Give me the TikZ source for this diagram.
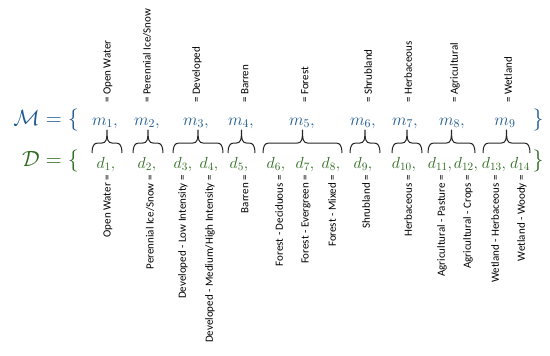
\RequirePackage{fix-cm}
\documentclass[tikz,border=0pt]{standalone}
\usepackage{fontspec}
\setmainfont{Carlito}
\definecolor{setblue}{RGB}{31,90,145}
\definecolor{setgreen}{RGB}{45,105,30}
\tikzset{
    % Class symbols
    mclass/.style  = {text=setblue, inner sep=0pt, anchor=base, font=\fontsize{17}{17}\selectfont},
    dclass/.style  = {text=setgreen, inner sep=0pt, anchor=base, font=\fontsize{16}{16}\selectfont},
    setname/.style = {inner sep=0pt, anchor=base east, font=\fontsize{22}{22}\selectfont},
    setend/.style  = {inner sep=0pt, anchor=base, font=\fontsize{22}{22}\selectfont},
    % Class names
    toplabel/.style = {rotate=90, anchor=west, inner sep=0pt, font=\fontsize{11}{11}\selectfont},
    botlabel/.style = {rotate=90, anchor=east, inner sep=0pt, font=\fontsize{11}{11}\selectfont},
    % Grouping braces
    grp/.style = {line width=1pt, black!85, line join=round}
}
\begin{document}
\begin{tikzpicture}[x=1pt, y=-1pt]
    \useasboundingbox (0,0) rectangle (550,356);

    % Set names
    \node (msetname) [setname, text=setblue] at (79,125) {$\mathcal{M} = \{$};
    \node (dsetname) [setname, text=setgreen] at (79,166) {$\mathcal{D} = \{$};

    % Merged classes (top row)
    \node (m1) [mclass] at (105,125) {$m_1,$};
    \node (m2) [mclass] at (147,125) {$m_2,$};
    \node (m3) [mclass] at (196,125) {$m_3,$};
    \node (m4) [mclass] at (241,125) {$m_4,$};
    \node (m5) [mclass] at (302,125) {$m_5,$};
    \node (m6) [mclass] at (363,125) {$m_6,$};
    \node (m7) [mclass] at (405,125) {$m_7,$};
    \node (m8) [mclass] at (452,125) {$m_8,$};
    \node (m9) [mclass] at (505,125) {$m_9$};
    \node (mclose) [setend, text=setblue] at (538,125) {$\}$};

    % Original classes (bottom row)
    \node (d1) [dclass] at (106,168) {$d_1,$};
    \node (d2) [dclass] at (147,168) {$d_2,$};
    \node (d3) [dclass] at (183,168) {$d_3,$};
    \node (d4) [dclass] at (209,168) {$d_4,$};
    \node (d5) [dclass] at (239,168) {$d_5,$};
    \node (d6) [dclass] at (276,168) {$d_6,$};
    \node (d7) [dclass] at (305,168) {$d_7,$};
    \node (d8) [dclass] at (331,168) {$d_8,$};
    \node (d9) [dclass] at (363,168) {$d_9,$};
    \node (d10) [dclass] at (404,168) {$d_{10},$};
    \node (d11) [dclass] at (440,168) {$d_{11},$};
    \node (d12) [dclass] at (466,168) {$d_{12},$};
    \node (d13) [dclass] at (494,168) {$d_{13},$};
    \node (d14) [dclass] at (520,168) {$d_{14}$};
    \node (dclose) [setend, text=setgreen] at (538,166) {$\}$};

    % Names above
    \node (mlab1) [toplabel] at (108,103) {= Open Water};
    \node (mlab2) [toplabel] at (147,103) {= Perennial Ice/Snow};
    \node (mlab3) [toplabel] at (197,103) {= Developed};
    \node (mlab4) [toplabel] at (245,103) {= Barren};
    \node (mlab5) [toplabel] at (305,103) {= Forest};
    \node (mlab6) [toplabel] at (368,103) {= Shrubland};
    \node (mlab7) [toplabel] at (408,103) {= Herbaceous};
    \node (mlab8) [toplabel] at (455,103) {= Agricultural};
    \node (mlab9) [toplabel] at (508,103) {= Wetland};

    % Names below
    \node (dlab1) [botlabel] at (108,175) {Open Water =};
    \node (dlab2) [botlabel] at (150,175) {Perennial Ice/Snow =};
    \node (dlab3) [botlabel] at (183,175) {Developed - Low Intensity =};
    \node (dlab4) [botlabel] at (210,175) {Developed - Medium/High Intensity =};
    \node (dlab5) [botlabel] at (245,175) {Barren =};
    \node (dlab6) [botlabel] at (279,175) {Forest - Deciduous =};
    \node (dlab7) [botlabel] at (306,175) {Forest - Evergreen =};
    \node (dlab8) [botlabel] at (332,175) {Forest - Mixed =};
    \node (dlab9) [botlabel] at (366,175) {Shrubland =};
    \node (dlab10) [botlabel] at (408,175) {Herbaceous =};
    \node (dlab11) [botlabel] at (442,175) {Agricultural - Pasture =};
    \node (dlab12) [botlabel] at (468,175) {Agricultural - Crops =};
    \node (dlab13) [botlabel] at (495,175) {Wetland - Herbaceous =};
    \node (dlab14) [botlabel] at (522,175) {Wetland - Woody =};

    % Braces grouping d's into m's
    \foreach \a/\b in {92/122, 133/163, 173/223, 228/255, 263/342, 350/380, 392/422, 428/475, 483/530} {
        \pgfmathsetmacro\c{(\a+\b)/2}
        \draw [grp] (\a,153) .. controls (\a,146) and (\a+2,143) .. (\a+6,143)
            -- (\c-5,143) .. controls (\c-1,143) and (\c,140) .. (\c,130)
            .. controls (\c,140) and (\c+1,143) .. (\c+5,143)
            -- (\b-6,143) .. controls (\b-2,143) and (\b,146) .. (\b,153);
    }

\end{tikzpicture}
\end{document}
